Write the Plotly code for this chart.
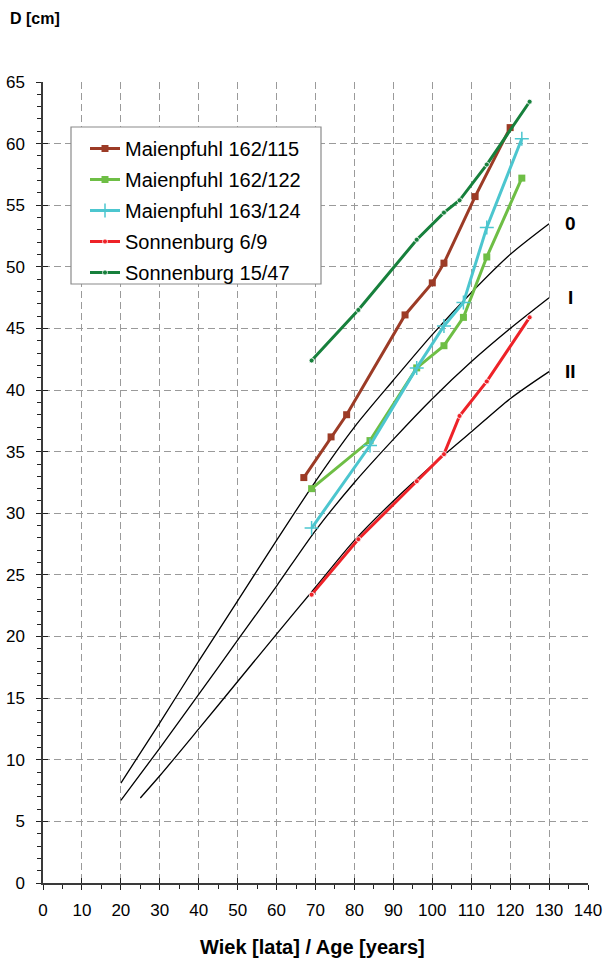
import plotly.graph_objects as go

# Reference growth curves (site classes 0, I, II): age [years] vs diameter [cm]
curve_age = [20, 30, 40, 50, 60, 70, 80, 90, 100, 110, 120, 130]
curve_0 = [8.1, 13.0, 18.0, 22.9, 27.8, 32.6, 37.0, 40.8, 44.5, 47.9, 51.0, 53.5]
curve_I = [6.7, 10.95, 15.3, 19.7, 24.1, 28.6, 32.5, 36.0, 39.3, 42.3, 45.0, 47.5]
curve_II_age = [25, 30, 40, 50, 60, 70, 80, 90, 100, 110, 120, 130]
curve_II = [6.9, 8.7, 12.5, 16.35, 20.2, 24.0, 27.8, 31.0, 33.9, 36.6, 39.3, 41.5]
curve_names = ["0", "I", "II"]

# Measured trees
mp_162_115_age = [67, 74, 78, 93, 100, 103, 111, 120]
mp_162_115_d = [32.9, 36.2, 38.0, 46.1, 48.7, 50.3, 55.7, 61.3]

mp_162_122_age = [69, 84, 96, 103, 108, 114, 123]
mp_162_122_d = [32.0, 35.9, 41.8, 43.6, 45.9, 50.8, 57.2]

mp_163_124_age = [69, 84, 96, 103, 108, 114, 123]
mp_163_124_d = [28.8, 35.5, 41.8, 45.2, 47.1, 53.2, 60.4]

sb_6_9_age = [69, 81, 96, 103, 107, 114, 125]
sb_6_9_d = [23.4, 27.9, 32.6, 34.8, 37.9, 40.7, 45.9]

sb_15_47_age = [69, 81, 96, 103, 107, 114, 125]
sb_15_47_d = [42.4, 46.5, 52.2, 54.4, 55.4, 58.3, 63.4]

FONT = "Liberation Sans, Arial, sans-serif"
W, H = 604, 964
ML, MR, MT, MB = 43, 16, 82, 81
PW, PH = W - ML - MR, H - MT - MB


def px_x(p):
    return (p - ML) / PW


def px_y(p):
    return (H - MB - p) / PH


fig = go.Figure()

for ages, vals in [(curve_age, curve_0), (curve_age, curve_I), (curve_II_age, curve_II)]:
    fig.add_trace(go.Scatter(
        x=ages, y=vals, mode="lines", showlegend=False, hoverinfo="skip",
        line=dict(color="black", width=1.3, shape="spline", smoothing=0.8),
    ))

series = [
    ("Maienpfuhl 162/115", mp_162_115_age, mp_162_115_d, "#9C3B26",
     dict(symbol="square", size=7, line=dict(width=0))),
    ("Maienpfuhl 162/122", mp_162_122_age, mp_162_122_d, "#6EBE45",
     dict(symbol="square", size=7, line=dict(width=0))),
    ("Maienpfuhl 163/124", mp_163_124_age, mp_163_124_d, "#4CC6CF",
     dict(symbol="cross-thin-open", size=10, line=dict(width=1.5, color="#4CC6CF"))),
    ("Sonnenburg 6/9", sb_6_9_age, sb_6_9_d, "#EE2228",
     dict(symbol="circle", size=5, line=dict(width=0.8, color="white"))),
    ("Sonnenburg 15/47", sb_15_47_age, sb_15_47_d, "#17803C",
     dict(symbol="circle", size=5, line=dict(width=0.8, color="white"))),
]
for i, (name, ages, vals, color, marker) in enumerate(series):
    fig.add_trace(go.Scatter(
        x=ages, y=vals, name=name, mode="lines+markers", legendgroup=f"g{i}",
        line=dict(color=color, width=3),
        marker=dict(color=color, **marker),
    ))

# invisible trace carrying the overlay axes (inner half of the crossing ticks)
fig.add_trace(go.Scatter(x=[None], y=[None], xaxis="x2", yaxis="y2",
                         showlegend=False, hoverinfo="skip"))

grid = dict(showgrid=True, gridcolor="#9a9a9a", gridwidth=1.2, griddash="7px,4px",
            zeroline=False, showline=True, linecolor="#3a3a3a", linewidth=1.5,
            ticks="outside", tickcolor="#222", tickwidth=1.2, ticklen=5, automargin=False,
            tickfont=dict(family=FONT, size=17, color="black"))

fig.update_layout(
    width=W, height=H,
    margin=dict(l=ML, r=MR, t=MT, b=MB, autoexpand=False),
    paper_bgcolor="white", plot_bgcolor="white",
    font=dict(family=FONT, color="black"),
    xaxis=dict(range=[0, 140], dtick=10, tick0=0,
               minor=dict(dtick=5, ticks="outside", ticklen=4, tickcolor="#222", showgrid=False),
               ticklabelstandoff=6, **grid),
    yaxis=dict(range=[0, 65], dtick=5, tick0=0,
               minor=dict(dtick=1, ticks="outside", ticklen=4, tickcolor="#222", showgrid=False),
               ticklabelstandoff=8, **grid),
    xaxis2=dict(overlaying="x", anchor="y", side="bottom", range=[0, 140], dtick=10,
                ticks="inside", ticklen=5, tickwidth=1.2, tickcolor="#222", automargin=False,
                showticklabels=False, showgrid=False, zeroline=False, showline=False),
    yaxis2=dict(overlaying="y", anchor="x", side="left", range=[0, 65], dtick=5,
                ticks="inside", ticklen=5, tickwidth=1.2, tickcolor="#222", automargin=False,
                showticklabels=False, showgrid=False, zeroline=False, showline=False),
    legend=dict(
        x=px_x(85), y=px_y(129), xanchor="left", yanchor="top",
        bgcolor="rgba(0,0,0,0)", borderwidth=0,
        font=dict(family=FONT, size=20, color="black"),
        traceorder="grouped", tracegroupgap=2, itemwidth=30,
    ),
    showlegend=True,
)

# legend frame
fig.add_shape(type="rect", xref="paper", yref="paper",
              x0=px_x(71), x1=px_x(321), y0=px_y(284), y1=px_y(127),
              fillcolor="white", line=dict(color="#8a8a8a", width=1.2), layer="above")

# class labels at the curve ends
for lab, vals in zip(curve_names, [curve_0, curve_I, curve_II]):
    fig.add_annotation(x=135.5, y=vals[-1], text=f"<b>{lab}</b>", showarrow=False,
                       xanchor="center", yanchor="middle",
                       font=dict(family=FONT, size=19, color="black"))

fig.add_annotation(xref="paper", yref="paper", x=px_x(8), y=px_y(18),
                   text="<b>D [cm]</b>", showarrow=False, xanchor="left", yanchor="middle",
                   font=dict(family=FONT, size=16, color="black"))
fig.add_annotation(xref="paper", yref="paper", x=px_x(312), y=px_y(947),
                   text="<b>Wiek [lata] / Age [years]</b>", showarrow=False,
                   xanchor="center", yanchor="middle",
                   font=dict(family=FONT, size=20, color="black"))

fig.write_html("out.html")
